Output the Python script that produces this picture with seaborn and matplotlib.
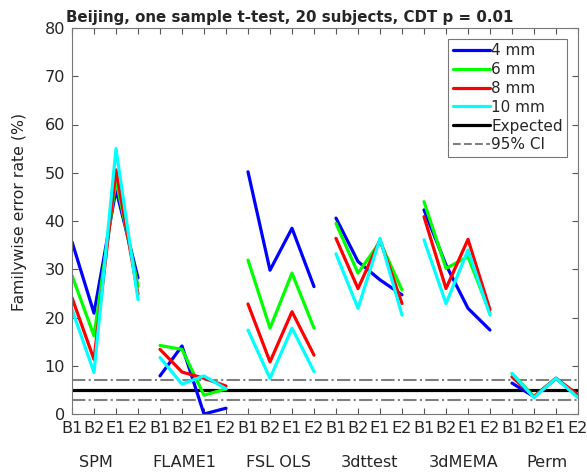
import matplotlib
matplotlib.use("Agg")
import matplotlib.pyplot as plt
import matplotlib.transforms as mtransforms
from matplotlib.lines import Line2D
import seaborn as sns
import numpy as np
import pandas as pd

methods = ["SPM", "FLAME1", "FSL OLS", "3dttest", "3dMEMA", "Perm"]
designs = ["B1", "B2", "E1", "E2"]
smoothing = ["4 mm", "6 mm", "8 mm", "10 mm"]
colors = ["#0000ff", "#00ff00", "#ff0000", "#00ffff"]

# familywise error rate (%), per method: B1, B2, E1, E2
fwe_4mm = [35.7, 20.9, 46.5, 28.2,
           7.9, 14.1, 0.0, 1.2,
           50.2, 29.8, 38.5, 26.4,
           40.6, 31.6, 27.8, 24.7,
           42.3, 30.9, 21.9, 17.4,
           6.4, 3.6, 7.4, 3.6]
fwe_6mm = [28.7, 16.2, 48.5, 26.5,
           14.2, 13.4, 3.9, 5.2,
           31.9, 17.8, 29.2, 17.8,
           39.5, 29.2, 35.7, 25.7,
           44.0, 30.2, 32.6, 20.9,
           8.4, 3.6, 7.4, 3.6]
fwe_8mm = [24.1, 11.3, 50.6, 24.8,
           13.4, 8.7, 7.4, 5.8,
           22.8, 10.8, 21.2, 12.2,
           36.4, 26.0, 36.1, 22.9,
           40.9, 26.0, 36.2, 21.6,
           7.7, 3.6, 7.4, 4.0]
fwe_10mm = [21.7, 8.6, 55.0, 23.7,
            11.7, 6.2, 7.9, 5.2,
            17.4, 7.4, 17.8, 8.8,
            33.2, 21.9, 36.4, 20.5,
            36.1, 22.9, 34.0, 20.5,
            8.4, 3.4, 7.4, 3.4]
expected = 5.0
ci_low, ci_high = 2.85, 7.15

rows = []
for name, vals in zip(smoothing, [fwe_4mm, fwe_6mm, fwe_8mm, fwe_10mm]):
    for i, v in enumerate(vals):
        rows.append({"pos": i + 1, "method": methods[i // 4],
                     "fwhm": name, "fwe": v})
df = pd.DataFrame(rows)

sns.set_style("white")
plt.rcParams["font.family"] = ["DejaVu Sans"]
plt.rcParams["text.color"] = "#262626"

fig = plt.figure(figsize=(5.87, 4.76), dpi=100)
ax = fig.add_axes([72 / 587, 1 - 414 / 476, (578 - 72) / 587, (414 - 28) / 476])

sns.lineplot(data=df, x="pos", y="fwe", hue="fwhm", hue_order=smoothing,
             units="method", estimator=None, palette=colors, lw=2.3,
             sort=False, legend=False, ax=ax)

ax.axhline(expected, color="black", lw=2.3, zorder=1)
ax.axhline(ci_high, color="#808080", lw=1.5, ls="-.", zorder=1)
ax.axhline(ci_low, color="#808080", lw=1.5, ls="-.", zorder=1)

ax.set_xlim(1, 24)
ax.set_ylim(0, 80)
ax.set_xticks(np.arange(1, 25))
ax.set_xticklabels(designs * len(methods))
ax.set_yticks(np.arange(0, 81, 10))
ax.set_xlabel("")
ax.set_ylabel("Familywise error rate (%)", fontsize=11.3, color="#262626")
ax.yaxis.set_label_coords(-0.088, 0.523)
ax.set_title("Beijing, one sample t-test, 20 subjects, CDT p = 0.01",
             fontsize=10.8, fontweight="bold", pad=4, x=0.43)
ax.tick_params(direction="in", length=4, width=0.8, colors="#555555",
               labelcolor="#262626", labelsize=11.6, top=True, right=True,
               left=True, bottom=True, pad=5)
for s in ax.spines.values():
    s.set_color("#777777")
    s.set_linewidth(0.8)

trans = mtransforms.blended_transform_factory(ax.transData, ax.transAxes)
group_x = [2.1, 6.1, 10.4, 14.5, 18.8, 22.6]
for gx, m in zip(group_x, methods):
    ax.text(gx, -0.125, m, transform=trans, ha="center", va="center",
            fontsize=11.6, color="#262626")

handles = [Line2D([], [], color=c, lw=2.3) for c in colors]
handles.append(Line2D([], [], color="black", lw=2.3))
handles.append(Line2D([], [], color="#808080", lw=1.5, ls="--"))
leg = ax.legend(handles, smoothing + ["Expected", "95% CI"], loc="upper right",
                fontsize=11, frameon=True, fancybox=False, handlelength=2.4,
                handletextpad=0.1, labelspacing=0.25, borderpad=0.3,
                borderaxespad=0.7)
leg.get_frame().set_edgecolor("#555555")
leg.get_frame().set_linewidth(0.8)

fig.savefig("out.png", dpi=100)
